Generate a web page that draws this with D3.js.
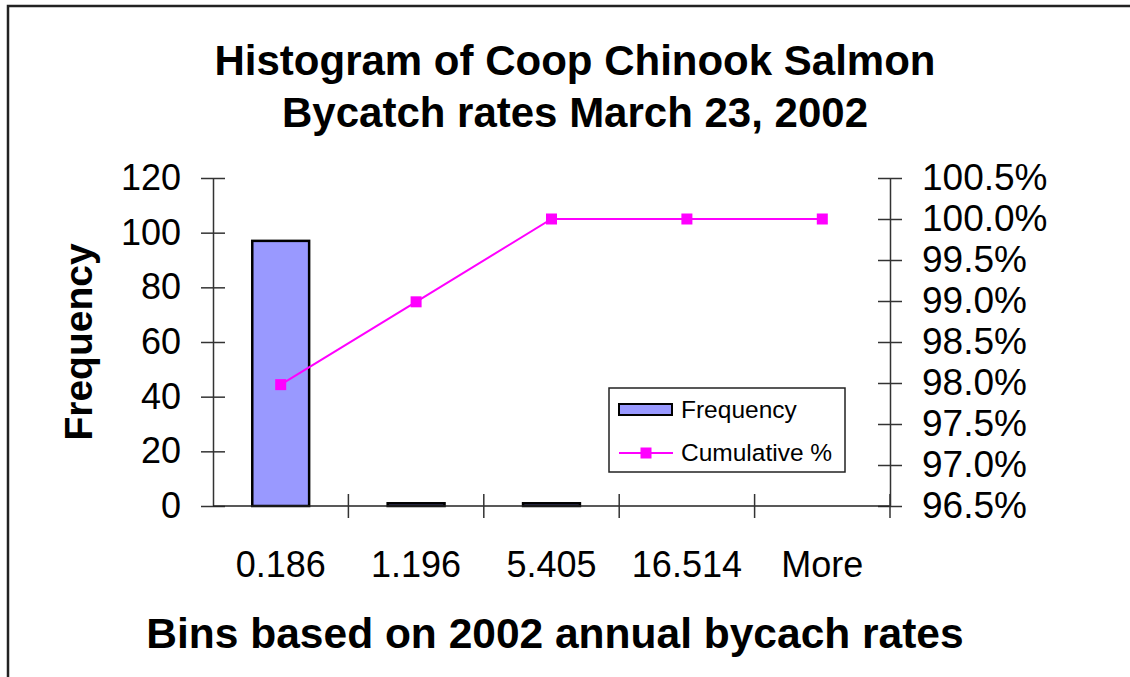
<!DOCTYPE html>
<html>
<head>
<meta charset="utf-8">
<script src="https://cdn.jsdelivr.net/npm/d3@7"></script>
<style>
  html, body { margin: 0; padding: 0; background: #fff; }
  svg { display: block; font-family: "Liberation Sans", Arial, sans-serif; }
</style>
</head>
<body>
<svg id="chart" width="1130" height="677"></svg>
<script>
// Histogram bins and their counts
const bins = ["0.186", "1.196", "5.405", "16.514", "More"];
const frequency = [97, 1, 1, 0, 0];
const cumulative = [0.9798, 0.9899, 1.0, 1.0, 1.0];
const freqTicks = [0, 20, 40, 60, 80, 100, 120];
const pctTicks = [0.965, 0.97, 0.975, 0.98, 0.985, 0.99, 0.995, 1.0, 1.005];

const titleLines = ["Histogram of Coop Chinook Salmon", "Bycatch rates March 23, 2002"];
const xTitle = "Bins based on 2002 annual bycach rates";
const yTitle = "Frequency";
const seriesNames = ["Frequency", "Cumulative %"];

const svg = d3.select("#chart");
const plot = { left: 213, right: 890, top: 178, bottom: 506 };
const tickFont = 36;

const x = d3.scaleBand().domain(bins).range([plot.left, plot.right]).padding(0);
const yL = d3.scaleLinear().domain([0, 120]).range([plot.bottom, plot.top]);
const yR = d3.scaleLinear().domain([0.965, 1.005]).range([plot.bottom, plot.top]);

// outer frame (top and left edges)
svg.append("path")
  .attr("d", "M8,690 L8,6 L1140,6")
  .attr("fill", "none").attr("stroke", "#222").attr("stroke-width", 2.5);

// title
svg.append("text")
  .attr("text-anchor", "middle").attr("font-weight", "bold").attr("font-size", 42)
  .selectAll("tspan").data(titleLines).join("tspan")
  .attr("x", 575).attr("y", (d, i) => 75 + i * 52).text(d => d);

// bars
const barW = x.bandwidth() * 0.42;
svg.append("g").selectAll("rect")
  .data(bins.map((b, i) => ({ b, v: frequency[i] })).filter(d => d.v > 0))
  .join("rect")
  .attr("x", d => x(d.b) + x.bandwidth() / 2 - barW / 2)
  .attr("y", d => yL(d.v))
  .attr("width", barW)
  .attr("height", d => yL(0) - yL(d.v))
  .attr("fill", "#9999ff")
  .attr("stroke", "#000").attr("stroke-width", 2.5);

// left axis with crossing ticks
const axL = svg.append("g").attr("transform", `translate(${plot.left},0)`)
  .call(d3.axisLeft(yL).tickValues(freqTicks).tickSize(12).tickSizeOuter(0));
axL.selectAll(".tick line").attr("x1", 12);
axL.selectAll(".tick text").attr("x", -32).attr("font-size", tickFont).attr("fill", "#000")
  .attr("font-family", "Liberation Sans, Arial, sans-serif");
axL.select(".domain").attr("stroke", "#333").attr("stroke-width", 1.5);
axL.selectAll(".tick line").attr("stroke", "#333").attr("stroke-width", 1.5);

// right axis
const axR = svg.append("g").attr("transform", `translate(${plot.right},0)`)
  .call(d3.axisRight(yR).tickValues(pctTicks).tickSize(12).tickSizeOuter(0)
    .tickFormat(d3.format(".1%")));
axR.selectAll(".tick line").attr("x1", -12);
axR.selectAll(".tick text").attr("x", 32).attr("font-size", tickFont + 1).attr("fill", "#000")
  .attr("font-family", "Liberation Sans, Arial, sans-serif");
axR.select(".domain").attr("stroke", "#333").attr("stroke-width", 1.5);
axR.selectAll(".tick line").attr("stroke", "#333").attr("stroke-width", 1.5);

// bottom axis: line, ticks at bin boundaries, labels at bin centres
const gx = svg.append("g");
gx.append("line")
  .attr("x1", plot.left).attr("x2", plot.right)
  .attr("y1", yL(0)).attr("y2", yL(0))
  .attr("stroke", "#222").attr("stroke-width", 1.5);
const edges = bins.map(b => x(b)).concat([x.range()[1]]);
gx.selectAll("line.edge").data(edges.slice(1)).join("line").attr("class", "edge")
  .attr("x1", d => d).attr("x2", d => d)
  .attr("y1", yL(0) - 12).attr("y2", yL(0) + 12)
  .attr("stroke", "#333").attr("stroke-width", 1.5);
gx.selectAll("text").data(bins).join("text")
  .attr("x", d => x(d) + x.bandwidth() / 2).attr("y", 577)
  .attr("text-anchor", "middle").attr("font-size", tickFont).text(d => d);

// cumulative % line with square markers
const line = d3.line()
  .x((d, i) => x(bins[i]) + x.bandwidth() / 2)
  .y(d => yR(d));
svg.append("path").datum(cumulative)
  .attr("d", line).attr("fill", "none")
  .attr("stroke", "#ff00ff").attr("stroke-width", 2);
const mk = 11;
svg.append("g").selectAll("rect").data(cumulative).join("rect")
  .attr("x", (d, i) => x(bins[i]) + x.bandwidth() / 2 - mk / 2)
  .attr("y", d => yR(d) - mk / 2)
  .attr("width", mk).attr("height", mk)
  .attr("fill", "#ff00ff");

// axis titles
svg.append("text")
  .attr("transform", "translate(92,342) rotate(-90)")
  .attr("text-anchor", "middle").attr("font-weight", "bold").attr("font-size", 39)
  .text(yTitle);
svg.append("text")
  .attr("x", 555).attr("y", 648)
  .attr("text-anchor", "middle").attr("font-weight", "bold").attr("font-size", 42.5)
  .text(xTitle);

// legend
const lg = svg.append("g");
lg.append("rect").attr("x", 609).attr("y", 388).attr("width", 236).attr("height", 84)
  .attr("fill", "#fff").attr("stroke", "#222").attr("stroke-width", 1.5);
lg.append("rect").attr("x", 619).attr("y", 404).attr("width", 53).attr("height", 11)
  .attr("fill", "#9999ff").attr("stroke", "#000").attr("stroke-width", 2);
lg.append("line").attr("x1", 619).attr("x2", 673).attr("y1", 453).attr("y2", 453)
  .attr("stroke", "#ff00ff").attr("stroke-width", 2);
lg.append("rect").attr("x", 646 - mk / 2).attr("y", 453 - mk / 2)
  .attr("width", mk).attr("height", mk).attr("fill", "#ff00ff");
lg.selectAll("text").data(seriesNames).join("text")
  .attr("x", 681).attr("y", (d, i) => 418 + i * 43)
  .attr("font-size", 24.5).text(d => d);
</script>
</body>
</html>
